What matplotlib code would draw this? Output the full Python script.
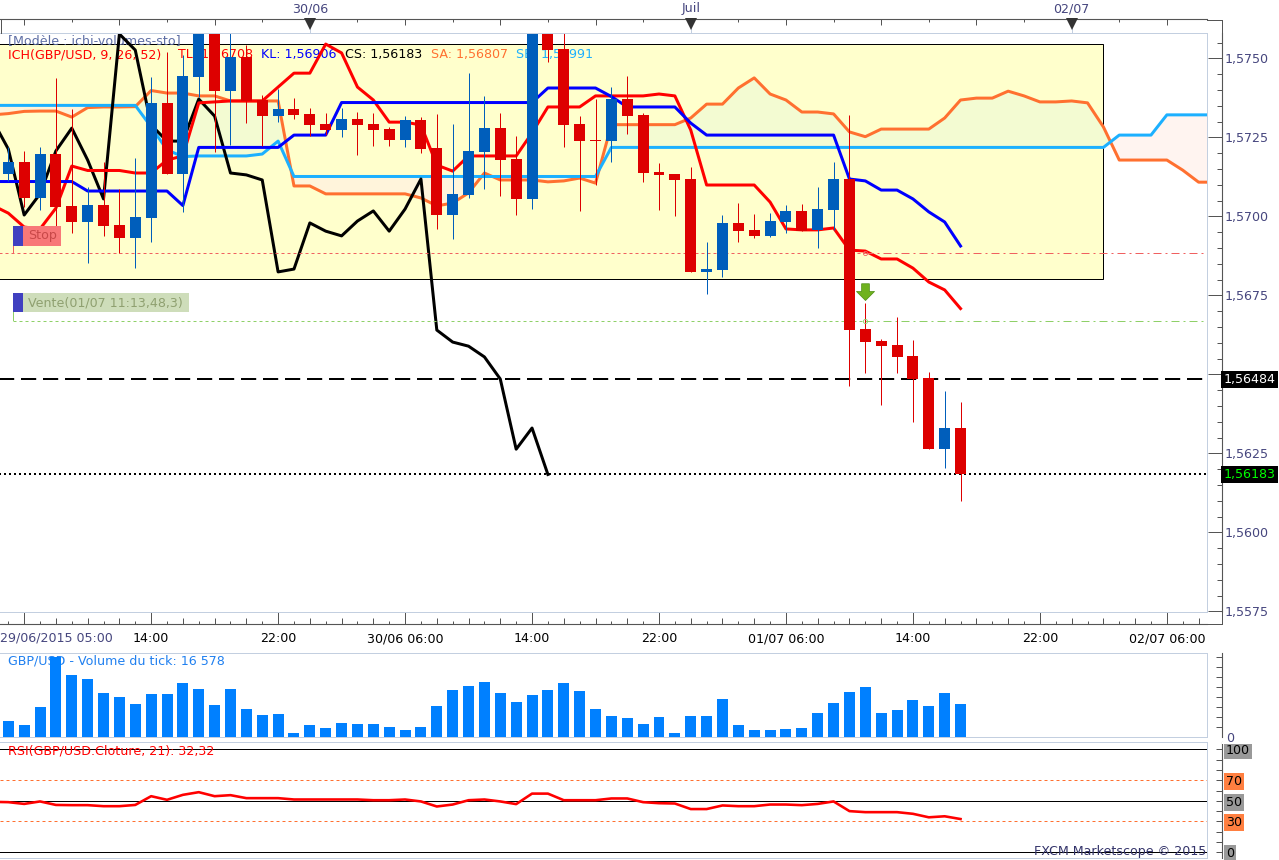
import numpy as np
import matplotlib
matplotlib.use("Agg")
import matplotlib.pyplot as plt
from matplotlib.lines import Line2D
from matplotlib.patches import Rectangle
from matplotlib.path import Path
from matplotlib.transforms import Affine2D

W, H = 1279, 860
plt.rcParams['font.family'] = ['DejaVu Sans']
plt.rcParams['font.size'] = 9.1

# prices in 1/100000
open_ = [157134, 157172, 157058, 157197, 157033, 156982, 157036, 156972, 156931, 156995, 157359,
         157134, 157441, 157605, 157397, 157504, 157368, 157317, 157340, 157324, 157292, 157273,
         157308, 157292, 157276, 157241, 157305, 157216, 157004, 157067, 157203, 157279, 157181,
         157055, 157580, 157529, 157292, 157241, 157238, 157371, 157321, 157140, 157134, 157118,
         156824, 156830, 156979, 156957, 156938, 156982, 157017, 156957, 157020, 157118, 156643,
         156605, 156593, 156558, 156488, 156263, 156330]
high = [157219, 157207, 157219, 157438, 157340, 157093, 157172, 157086, 157185, 157441, 157520,
        157510, 157621, 157621, 157605, 157542, 157384, 157403, 157374, 157343, 157327, 157343,
        157330, 157327, 157283, 157317, 157314, 157324, 157292, 157453, 157381, 157327, 157254,
        157605, 157600, 157605, 157317, 157371, 157409, 157444, 157327, 157169, 157134, 157156,
        156919, 157004, 157042, 157007, 157011, 157036, 157039, 157093, 157172, 157321, 156726,
        156612, 156681, 156608, 156507, 156447, 156412]
low = [157112, 157029, 157020, 156966, 156947, 156852, 156938, 156884, 156836, 156919, 157134,
       157014, 157378, 157203, 157226, 157295, 157222, 157298, 157308, 157254, 157257, 157251,
       157194, 157222, 157222, 157219, 157200, 156960, 156928, 157058, 157086, 157064, 157004,
       157023, 157488, 157219, 157017, 157099, 157172, 157260, 157109, 157020, 157001, 156824,
       156754, 156808, 156919, 156931, 156934, 156947, 156953, 156900, 156957, 156463, 156504,
       156403, 156504, 156349, 156263, 156203, 156099]
close = [157172, 157058, 157197, 157029, 156982, 157036, 156969, 156931, 156998, 157359, 157134,
         157444, 157605, 157397, 157504, 157365, 157317, 157340, 157321, 157289, 157273, 157308,
         157289, 157273, 157241, 157305, 157213, 157004, 157071, 157207, 157279, 157178, 157055,
         157577, 157526, 157289, 157238, 157238, 157371, 157317, 157137, 157131, 157115, 156824,
         156833, 156979, 156953, 156938, 156985, 157017, 156953, 157023, 157118, 156640, 156602,
         156589, 156555, 156485, 156263, 156330, 156183]

# ichimoku lines, first value sits one bar left of the first candle
tenkan = [157035, 157010, 156966, 156960, 157026, 157159, 157145, 157145, 157145, 157137, 157137,
          157178, 157191, 157359, 157362, 157365, 157365, 157365, 157409, 157453, 157453, 157545,
          157517, 157409, 157368, 157298, 157298, 157289, 157162, 157143, 157191, 157191, 157191,
          157191, 157264, 157346, 157346, 157346, 157381, 157381, 157381, 157381, 157387, 157381,
          157273, 157099, 157099, 157099, 157099, 157045, 156960, 156957, 156957, 156963, 156893,
          156890, 156865, 156865, 156836, 156792, 156767, 156708]
kijun = [157110, 157110, 157110, 157110, 157110, 157110, 157080, 157080, 157080, 157080, 157080,
         157080, 157034, 157218, 157218, 157218, 157218, 157218, 157218, 157257, 157257, 157257,
         157360, 157360, 157360, 157360, 157360, 157360, 157360, 157360, 157360, 157360, 157360,
         157360, 157360, 157406, 157406, 157406, 157406, 157379, 157346, 157346, 157346, 157346,
         157295, 157257, 157257, 157257, 157257, 157257, 157257, 157257, 157257, 157257, 157118,
         157112, 157083, 157083, 157055, 157014, 156982, 156906]
senkou_a = [157321, 157325, 157332, 157333, 157333, 157314, 157344, 157346, 157346, 157347, 157398,
            157390, 157390, 157381, 157381, 157365, 157365, 157365, 157365, 157096, 157096, 157071,
            157071, 157071, 157071, 157071, 157071, 157058, 157033, 157042, 157074, 157137, 157115,
            157115, 157115, 157109, 157112, 157121, 157105, 157290, 157290, 157290, 157290, 157290,
            157311, 157355, 157355, 157406, 157438, 157387, 157368, 157330, 157330, 157324, 157267,
            157252, 157276, 157276, 157276, 157276, 157311, 157368, 157374, 157374, 157396, 157381,
            157362, 157362, 157365, 157359, 157283, 157178, 157178, 157178, 157178, 157146, 157108,
            157108]
senkou_b = [157351, 157351, 157351, 157351, 157351, 157351, 157351, 157351, 157351, 157351, 157283,
            157210, 157189, 157191, 157191, 157191, 157191, 157197, 157238, 157126, 157126, 157126,
            157126, 157126, 157126, 157126, 157126, 157126, 157126, 157126, 157126, 157126, 157126,
            157126, 157126, 157126, 157126, 157126, 157126, 157218, 157218, 157218, 157218, 157218,
            157218, 157218, 157218, 157218, 157218, 157218, 157218, 157218, 157218, 157218, 157218,
            157218, 157218, 157218, 157218, 157218, 157218, 157218, 157218, 157218, 157218, 157218,
            157218, 157218, 157218, 157218, 157218, 157257, 157257, 157257, 157321, 157321, 157321,
            157321]

# the lagging line is the close, 26 bars back
chikou = close[25:]

channel_upper = [156738, 156324]
channel_lower = [156472, 156102]
channel_bars = [53, 64, 65]

volume = [8170, 6170, 15170, 40000, 31170, 29170, 22170, 20170, 16670, 21670, 21670, 27170, 24170,
          16170, 24170, 14170, 11170, 11670, 2170, 6170, 4670, 7170, 6670, 6670, 5170, 3670, 5170,
          15670, 23670, 25670, 27670, 22170, 17670, 21170, 23670, 27170, 23170, 14170, 10670, 9670,
          6670, 10170, 2170, 10670, 10670, 19170, 6170, 3670, 3670, 4170, 4670, 12170, 17170, 22670,
          25170, 12170, 13670, 18670, 15670, 22170, 16578]

# rsi, first value one bar left of the first candle
rsi = [49, 48.7, 47, 49.4, 46, 45.8, 45.8, 44.8, 44.8, 46, 54.5, 51, 55.8, 58.4, 54.5, 55.5, 52.6, 52.6,
       52.6, 51.3, 51.3, 51.3, 51.3, 51.3, 50.6, 50.6, 51.3, 49.4, 44.5, 46.4, 50.6, 51.3, 49.4, 46.8,
       57, 57, 50.6, 50.6, 50.6, 52.3, 52.3, 48.7, 47.7, 47.4, 42, 42, 45.5, 44.8, 44.8, 46.4, 46.4,
       45.8, 47, 49.4, 40, 39, 39, 39, 37.4, 34, 35, 32.32]

price_ticks = [1.5575, 1.5600, 1.5625, 1.5650, 1.5675, 1.5700, 1.5725, 1.5750]
price_labels = ['1,5575', '1,5600', '1,5625', '', '1,5675', '1,5700', '1,5725', '1,5750']
first_time_label = '29/06/2015 05:00'
time_ticks = [1, 9, 17, 25, 33, 41, 49, 57, 65, 73]
time_labels = ['', '14:00', '22:00', '30/06 06:00', '14:00', '22:00',
               '01/07 06:00', '14:00', '22:00', '02/07 06:00']
date_ticks = [19, 43, 67]
date_labels = ['30/06', 'Juil', '02/07']
rsi_ticks = [0, 30, 50, 70, 100]

current_price = 1.56183
support_price = 1.56484
stop_price = 1.56883
sell_price = 1.56670
zone_top, zone_bottom = 1.57546, 1.56802

RED, BLUE = '#DD0000', '#005EBB'
AXC, TXT, PALE = '#555555', '#46467E', '#C3CFE0'
ORANGE, SKY = '#FF7030', '#1CB0FF'
SELL_GREEN, STOP_RED = '#8FD068', '#F06060'
px = 0.72

open_, high, low, close = [np.array(a) / 1e5 for a in (open_, high, low, close)]
tenkan, kijun = np.array(tenkan) / 1e5, np.array(kijun) / 1e5
senkou_a, senkou_b = np.array(senkou_a) / 1e5, np.array(senkou_b) / 1e5
chikou = np.array(chikou) / 1e5

fig = plt.figure(figsize=(W / 100, H / 100), dpi=100, facecolor='white')
pix = Affine2D().scale(1, -1).translate(0, H)
XLIM = (-0.523, 75.51)


def panel(top, bottom):
    ax = fig.add_axes([0, 1 - bottom / H, 1206.7 / W, (bottom - top) / H])
    ax.patch.set_alpha(0)
    for s in ('left', 'top', 'bottom'):
        ax.spines[s].set_visible(False)
    ax.spines['right'].set_position(('outward', 15 * px))
    ax.spines['right'].set_color(AXC)
    ax.yaxis.tick_right()
    return ax


def pline(x0, y0, x1, y1, color=PALE, lw=1 * px, z=5):
    fig.add_artist(Line2D([x0, x1], [y0, y1], color=color, lw=lw, transform=pix, zorder=z))


# --- main price panel ---
ax = panel(33, 611.7)

bars = np.arange(len(open_))
span_x = np.arange(-1, len(senkou_a) - 1)
line_x = np.arange(-1, len(tenkan) - 1)

ax.add_patch(Rectangle((-2, zone_bottom), 70.96, zone_top - zone_bottom, fc='#FFFFCC', ec='black',
                       lw=1 * px, zorder=0.5))
ax.fill_between(span_x, senkou_a, senkou_b, where=senkou_a >= senkou_b, interpolate=True,
                color='#F3FBD2', lw=0, zorder=1)
ax.fill_between(span_x, senkou_a, senkou_b, where=senkou_a <= senkou_b, interpolate=True,
                color='#FFEEE6', alpha=0.6, lw=0, zorder=1)

for x, s, c in [(8, 'ICH(GBP/USD, 9, 26, 52)', '#FF0000'), (178, 'TL: 1,56708', '#FF0000'),
                (261, 'KL: 1,56906', '#0000FF'), (345, 'CS: 1,56183', 'black'),
                (431, 'SA: 1,56807', ORANGE), (516, 'SB: 1,56991', SKY)]:
    ax.text(x, 54.5, s, color=c, transform=pix, va='center', zorder=1.5)
ax.text(8, 40.5, '[Modèle : ichi-volumes-sto]', color='#5F6FA5', transform=pix, va='center', zorder=1.5)

ax.plot(span_x, senkou_a, color=ORANGE, lw=3 * px, zorder=2)
ax.plot(span_x, senkou_b, color=SKY, lw=3 * px, zorder=2)
ax.plot(np.arange(-1, len(chikou) - 1), chikou, color='black', lw=3 * px, zorder=2.2)
ax.plot(line_x, tenkan, color='#FF0000', lw=3 * px, zorder=2.4)
ax.plot(line_x, kijun, color='#0000FF', lw=3 * px, zorder=2.4)

sp = 54
ax.plot([-1, sp], [stop_price] * 2, color=STOP_RED, lw=1 * px, ls=(0, (3, 3)), zorder=2.5)
ax.plot([sp, 77], [stop_price] * 2, color=STOP_RED, lw=1 * px, ls=(0, (8, 4, 2, 4)), zorder=2.5)
ax.plot([0.3, sp], [sell_price] * 2, color=SELL_GREEN, lw=1 * px, ls=(0, (3, 3)), zorder=2.5)
ax.plot([sp, 77], [sell_price] * 2, color=SELL_GREEN, lw=1 * px, ls=(0, (8, 4, 2, 4)), zorder=2.5)
ax.plot(sp, stop_price, marker='o', ms=3, mfc='none', mec=STOP_RED, mew=0.6, zorder=5)
ax.plot(sp, sell_price, marker='o', ms=3, mfc='none', mec=SELL_GREEN, mew=0.6, zorder=5)
ax.plot([-1, 77], [support_price] * 2, color='black', lw=2 * px, ls=(0, (7.6, 3.4)), zorder=2.6)
ax.plot([-1, 75.51], [current_price] * 2, color='black', lw=2 * px, ls=(0, (1, 1.5)), zorder=2.6)

colors = np.where(close < open_, RED, BLUE)
ax.vlines(bars, low, high, colors=colors, lw=1 * px, zorder=3)
ax.bar(bars, np.abs(close - open_), bottom=np.minimum(open_, close), width=0.693, color=colors,
       lw=0, zorder=3.1)

ax.plot(channel_bars[:2], channel_upper, color='black', lw=2 * px, zorder=4)
ax.plot([channel_bars[0], channel_bars[2]], channel_lower, color='black', lw=2 * px, zorder=4)

arrow = Path([(-3, 6), (3, 6), (3, 0), (7, 0), (0, -7), (-7, 0), (-3, 0), (-3, 6)], closed=True)
ax.plot(54, 1.5725 - (290.5 - 137.3) / 31600, marker=arrow, ms=13, mfc='#6FB21E', mec='#4E8E12',
        mew=0.5, zorder=4)

ax.set_yticks(price_ticks)
ax.set_yticklabels(price_labels, color=TXT)
ax.set_yticks(np.arange(1.5575, 1.5765, 0.0005), minor=True)
ax.tick_params(axis='y', which='major', direction='in', length=14 * px, color=AXC, pad=2, width=1 * px)
ax.tick_params(axis='y', which='minor', direction='in', length=5 * px, color=AXC, width=1 * px)

all_bars = np.arange(0, 76)
ax.set_xticks(time_ticks)
ax.set_xticklabels(time_labels, color=TXT)
ax.set_xticks(all_bars[all_bars % 2 == 1], minor=True)
ax.spines['bottom'].set_visible(True)
ax.spines['bottom'].set_position(('outward', 12.3 * px))
ax.spines['bottom'].set_color(AXC)
ax.tick_params(axis='x', which='major', direction='in', length=12.3 * px, color=AXC, pad=6, width=1 * px)
ax.tick_params(axis='x', which='minor', direction='in', length=6 * px, color=AXC, width=1 * px)
ax.vlines(all_bars[all_bars % 2 == 0], -12.3 / 578.7, -9.3 / 578.7, color=AXC, lw=1 * px, clip_on=False,
          transform=ax.get_xaxis_transform())
ax.text(0, 638, first_time_label, color=TXT, va='center', transform=pix)

top = ax.secondary_xaxis(1 + 13.5 / 578.7)
top_major = all_bars[all_bars % 6 == 1]
top.set_xticks(top_major)
top.set_xticklabels([date_labels[date_ticks.index(t)] if t in date_ticks else '' for t in top_major],
                    color=TXT)
top.set_xticks(all_bars[all_bars % 3 == 1], minor=True)
top.tick_params(axis='x', which='major', direction='in', length=6 * px, color=AXC, pad=3, width=1 * px)
top.tick_params(axis='x', which='minor', direction='in', length=3 * px, color=AXC, width=1 * px)
top.spines['top'].set_color(AXC)
for d in date_ticks:
    ax.plot(d, 1 + 9.5 / 578.7, marker='v', ms=8, color='#333333', mew=0, clip_on=False,
            transform=ax.get_xaxis_transform(), zorder=6)
    ax.vlines(d, 1, 1 + 6 / 578.7, color=PALE, lw=1 * px, clip_on=False,
              transform=ax.get_xaxis_transform())

# value flags on the price axis
for price, label, col in [(support_price, '1,56484', 'white'), (current_price, '1,56183', '#00FF00')]:
    ax.text(1223.5 / 1206.7, price, label, color=col, transform=ax.get_yaxis_transform(), va='center',
            clip_on=False, bbox=dict(fc='black', ec='none', pad=1.5), zorder=7)

# alert flags
for y0, y1, xr, col, tcol, label in [(226, 245.5, 61, '#F87878', '#C84848', 'Stop'),
                                     (293, 312, 189, '#CEDDBA', '#8FA070', 'Vente(01/07 11:13,48,3)')]:
    ax.add_patch(Rectangle((23, y0), xr - 23, y1 - y0, fc=col, ec='none', transform=pix, zorder=8))
    ax.add_patch(Rectangle((13, y0), 10, y1 - y0, fc='#4040C0', ec='none', transform=pix, zorder=8))
    ax.text(28, (y0 + y1) / 2, label, color=tcol, va='center', transform=pix, zorder=9)
pline(13, 245.5, 13, 253, STOP_RED)
pline(13, 312, 13, 320, SELL_GREEN)

# set last, the tick calls above stretch the view
ax.set_xlim(*XLIM)
ax.set_ylim(1.5725 - (611.7 - 137.3) / 31600, 1.5725 + (137.3 - 33) / 31600)

# --- volume panel ---
vax = panel(653, 737)
vax.text(8, 661, 'GBP/USD - Volume du tick: 16 578', color='#2080F0', transform=pix, va='center', zorder=1)
vax.bar(bars, volume, width=0.693, color='#0080FF', lw=0, zorder=2)
vax.set_xticks([])
vax.set_yticks([25000])
vax.set_yticklabels([''])
vax.set_yticks(np.arange(5000, 42000, 5000), minor=True)
vax.tick_params(axis='y', which='both', direction='in', length=6 * px, color=AXC, width=1 * px)
vax.set_xlim(*XLIM)
vax.set_ylim(0, 42000)

# --- rsi panel ---
rax = panel(742, 858)
rax.axhline(100, color='black', lw=1 * px, zorder=1)
rax.axhline(50, color='black', lw=1 * px, zorder=1)
rax.axhline(0, color='black', lw=1 * px, zorder=1)
rax.axhline(70, color=ORANGE, lw=1 * px, ls=(0, (3, 3)), zorder=1)
rax.axhline(30, color=ORANGE, lw=1 * px, ls=(0, (3, 3)), zorder=1)
rax.plot(np.arange(-1, len(rsi) - 1), rsi, color='#FF0000', lw=2.6 * px, zorder=2)
rax.text(8, 751, 'RSI(GBP/USD.Cloture, 21): 32,32', color='#FF0000', transform=pix, va='center', zorder=3)
rax.set_xticks([])
rax.set_yticks(rsi_ticks)
rax.set_yticklabels([str(v) for v in rsi_ticks], color='black')
for lab, face in zip(rax.get_yticklabels(), ['#999999', '#FF7F40', '#999999', '#FF7F40', '#999999']):
    lab.set_bbox(dict(fc=face, ec='none', pad=1.5))
rax.set_yticks(np.arange(0, 101, 10), minor=True)
rax.tick_params(axis='y', which='both', direction='in', length=6 * px, color=AXC, pad=3, width=1 * px)
rax.set_xlim(*XLIM)
rax.set_ylim(-5.5, 107.1)

fig.text(1226, 739, '0', color=TXT, transform=pix, va='center', zorder=1)
fig.add_artist(Rectangle((1222, 741.5), 30, 2, fc='white', ec='none', transform=pix, zorder=2))

# --- frame pieces ---
pline(0, 33, 1206.7, 33)
pline(1206.7, 33, 1206.7, 611.7)
pline(0, 611.7, 1206.7, 611.7)
pline(0, 653, 1206.7, 653)
pline(1206.7, 653, 1206.7, 737)
pline(0, 737, 1206.7, 737)
pline(0, 742, 1206.7, 742)
pline(1206.7, 742, 1206.7, 858)
pline(0, 858, 1206.7, 858)
pline(1206.7, 19.5, 1221.7, 19.5, AXC)
pline(1206.7, 624, 1221.7, 624, AXC)
pline(1221.7, 19.5, 1221.7, 33, AXC)
pline(1221.7, 611.7, 1221.7, 624, AXC)
pline(0.5, 19.5, 0.5, 33, AXC)
fig.text(1206, 852, 'FXCM Marketscope © 2015', color='#33336A', ha='right', va='center',
         transform=pix, zorder=10)

fig.savefig('out.png', dpi=100)
